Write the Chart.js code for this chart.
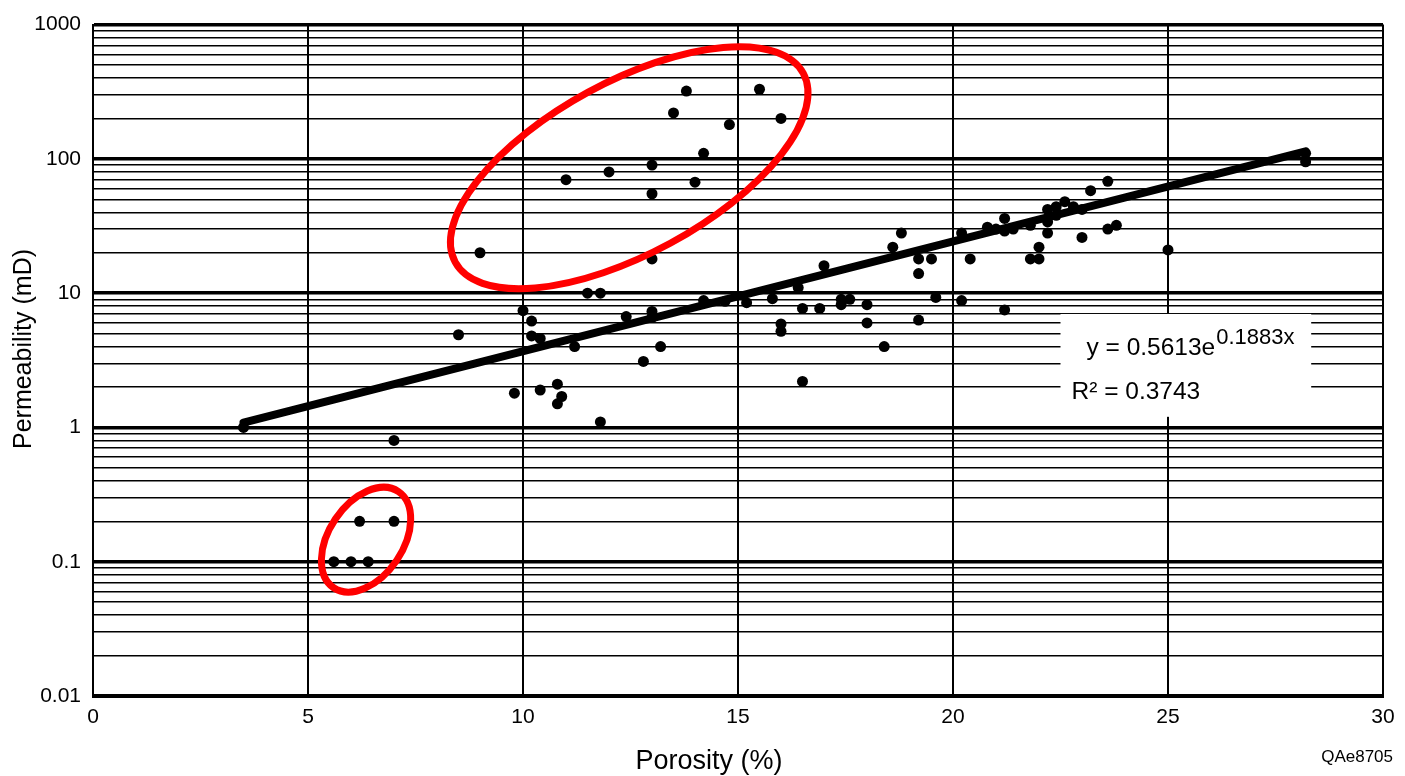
<!DOCTYPE html>
<html>
<head>
<meta charset="utf-8">
<title>Porosity vs Permeability</title>
<script src="https://cdn.jsdelivr.net/npm/chart.js@4.4.1/dist/chart.umd.min.js"></script>
<style>
  html, body { margin: 0; padding: 0; background: #fff; }
  #wrap { width: 1405px; height: 776px; }
</style>
</head>
<body>
<div id="wrap"><canvas id="chart" width="1405" height="776"></canvas></div>
<script>
// core plugs: porosity (%) vs permeability (mD)
const porosity = [
  3.5, 5.6, 6.0, 6.4, 6.2, 7.0, 7.0, 8.5, 9.0, 9.8,
  10.0, 10.2, 10.2, 10.4, 10.4, 10.8, 10.9, 10.8, 11.0, 11.2,
  11.5, 11.8, 11.8, 12.0, 12.4, 12.8, 13.0, 13.0, 13.0, 13.0,
  13.0, 13.2, 13.5, 13.8, 14.0, 14.2, 14.2, 14.8, 14.7, 15.2,
  15.5, 15.8, 16.0, 16.0, 16.0, 16.4, 16.5, 16.5, 16.9, 17.0,
  17.4, 17.4, 17.6, 18.0, 18.0, 18.4, 18.6, 18.8, 19.2, 19.2,
  19.2, 19.5, 19.6, 20.2, 20.2, 20.4, 20.8, 21.0, 21.2, 21.2,
  21.2, 21.4, 21.8, 21.8, 22.0, 22.0, 22.2, 22.2, 22.2, 22.4,
  22.4, 22.6, 22.8, 23.0, 23.0, 23.2, 23.6, 23.6, 23.8, 25.0,
  28.2, 28.2
];
const permeability = [
  1.0, 0.1, 0.1, 0.1, 0.2, 0.2, 0.8, 4.9, 20, 1.8,
  7.4, 6.2, 4.8, 4.6, 1.9, 2.1, 1.7, 1.5, 70, 4.0,
  10, 10, 1.1, 80, 6.7, 3.1, 90, 55, 18, 7.3,
  6.6, 4.0, 220, 320, 67, 110, 8.8, 180, 8.7, 8.5,
  330, 9.1, 200, 5.9, 5.2, 11, 7.7, 2.2, 7.7, 16,
  9.0, 8.2, 9.0, 8.2, 6.0, 4.0, 22, 28, 18, 14,
  6.3, 18, 9.3, 28, 8.8, 18, 31, 30, 36, 29,
  7.5, 30, 32, 18, 18, 22, 42, 34, 28, 44,
  38, 48, 44, 42, 26, 58, 68, 30, 32, 21,
  110, 95
];

const xTickValues = [0, 5, 10, 15, 20, 25, 30];
const yTickValues = [0.01, 0.1, 1, 10, 100, 1000];
const yTickLabels = ['0.01', '0.1', '1', '10', '100', '1000'];

// exponential trend printed on the chart
const fitA = 0.5613;
const fitB = 0.1883;
const fitR2 = '0.3743';
const fitRange = [3.5, 28.2];

// red rings drawn over the plot (centre in data units, radii in px)
const rings = [
  { x: 12.47, y: 86, rx: 198, ry: 86, angle: -28.5 },
  { x: 6.35, y: 0.146, rx: 58, ry: 37, angle: -56 }
];

const FONT = '"Liberation Sans", Arial, Helvetica, sans-serif';

const points = porosity.map((p, i) => ({ x: p, y: permeability[i] }));
const trend = fitRange.map(x => ({ x, y: fitA * Math.exp(fitB * x) }));

function isDecade(v) {
  const l = Math.log10(v);
  return Math.abs(l - Math.round(l)) < 1e-6;
}

function logTicks() {
  const out = [];
  for (let e = -2; e <= 3; e++) {
    for (let s = 1; s <= 9; s++) {
      const v = parseFloat((s * Math.pow(10, e)).toPrecision(3));
      if (v > 1000) break;
      out.push({ value: v });
    }
  }
  return out;
}

const overlay = {
  id: 'overlay',
  afterDatasetsDraw(chart) {
    const { ctx, scales: { x, y } } = chart;
    ctx.save();

    // equation box
    const bx = x.getPixelForValue(22.5), bx2 = x.getPixelForValue(28.33);
    const by = y.getPixelForValue(7.0), by2 = y.getPixelForValue(1.2);
    ctx.fillStyle = '#fff';
    ctx.fillRect(bx, by, bx2 - bx, by2 - by);

    ctx.fillStyle = '#000';
    ctx.textBaseline = 'alphabetic';
    ctx.textAlign = 'left';
    ctx.font = '24.5px ' + FONT;
    const eq = 'y = ' + fitA + 'e';
    ctx.fillText(eq, bx + 26, by + 41);
    const w = ctx.measureText(eq).width;
    ctx.font = '22px ' + FONT;
    ctx.fillText(fitB + 'x', bx + 27 + w, by + 30);
    ctx.font = '24.5px ' + FONT;
    ctx.fillText('R\u00b2 = ' + fitR2, bx + 11, by + 85);

    // rings
    ctx.strokeStyle = '#ff0000';
    ctx.lineWidth = 7;
    rings.forEach(r => {
      ctx.beginPath();
      ctx.ellipse(x.getPixelForValue(r.x), y.getPixelForValue(r.y), r.rx, r.ry,
        r.angle * Math.PI / 180, 0, Math.PI * 2);
      ctx.stroke();
    });
    ctx.restore();
  },
  afterDraw(chart) {
    const { ctx } = chart;
    ctx.save();
    ctx.fillStyle = '#000';
    ctx.textAlign = 'center';
    ctx.textBaseline = 'middle';
    ctx.font = '27px ' + FONT;
    ctx.fillText('Porosity (%)', 709, 762);

    ctx.translate(24, 349);
    ctx.rotate(-Math.PI / 2);
    ctx.font = '25px ' + FONT;
    ctx.fillText('Permeability (mD)', 0, 0);
    ctx.setTransform(1, 0, 0, 1, 0, 0);

    ctx.textAlign = 'right';
    ctx.font = '17px ' + FONT;
    ctx.fillText('QAe8705', 1393, 757);
    ctx.restore();
  }
};

new Chart(document.getElementById('chart'), {
  type: 'scatter',
  data: {
    datasets: [
      {
        label: 'Trend',
        data: trend,
        showLine: true,
        borderColor: '#000',
        borderWidth: 8,
        borderCapStyle: 'round',
        pointRadius: 0,
        fill: false
      },
      {
        label: 'Samples',
        data: points,
        backgroundColor: '#000',
        borderWidth: 0,
        pointRadius: 5.5
      }
    ]
  },
  options: {
    responsive: false,
    animation: false,
    devicePixelRatio: 1,
    layout: { padding: { left: 0, right: 22, top: 20, bottom: 0 } },
    plugins: { legend: { display: false }, tooltip: { enabled: false } },
    scales: {
      x: {
        type: 'linear',
        min: 0,
        max: 30,
        afterFit: s => { s.height = 80; },
        afterBuildTicks: s => { s.ticks = xTickValues.map(v => ({ value: v })); },
        ticks: {
          autoSkip: false,
          maxRotation: 0,
          padding: 9,
          color: '#000',
          font: { family: FONT, size: 21 }
        },
        grid: { color: '#000', lineWidth: 2, drawTicks: false },
        border: { display: true, color: '#000', width: 3 }
      },
      y: {
        type: 'logarithmic',
        min: 0.01,
        max: 1000,
        afterFit: s => { s.width = 93; },
        afterBuildTicks: s => { s.ticks = logTicks(); },
        ticks: {
          autoSkip: false,
          padding: 12,
          color: '#000',
          font: { family: FONT, size: 21 },
          callback: v => {
            if (!isDecade(v)) return '';
            const i = yTickValues.findIndex(t => Math.abs(t - v) / t < 1e-6);
            return i >= 0 ? yTickLabels[i] : '';
          }
        },
        grid: {
          color: '#000',
          drawTicks: false,
          lineWidth: c => (c.tick && isDecade(c.tick.value)) ? 3.5 : 1.5
        },
        border: { display: true, color: '#000', width: 2 }
      }
    }
  },
  plugins: [overlay]
});
</script>
</body>
</html>
